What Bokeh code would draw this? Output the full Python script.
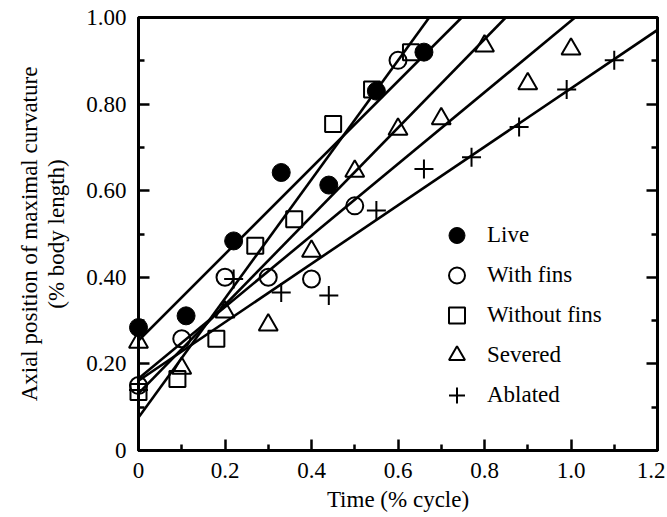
import numpy as np
from bokeh.plotting import figure
from bokeh.models import Range1d, LinearAxis, FixedTicker, Legend, LegendItem
from bokeh.embed import file_html
from bokeh.resources import INLINE

# ---- data ----
live_x = [0.0, 0.11, 0.22, 0.33, 0.44, 0.55, 0.66]
live_y = [0.284, 0.311, 0.484, 0.642, 0.613, 0.830, 0.920]

withfins_x = [0.0, 0.1, 0.2, 0.3, 0.4, 0.5, 0.6]
withfins_y = [0.150, 0.258, 0.400, 0.400, 0.396, 0.565, 0.901]

withoutfins_x = [0.0, 0.09, 0.18, 0.27, 0.36, 0.45, 0.54, 0.63]
withoutfins_y = [0.135, 0.165, 0.258, 0.473, 0.534, 0.754, 0.834, 0.920]

severed_x = [0.0, 0.1, 0.2, 0.3, 0.4, 0.5, 0.6, 0.7, 0.8, 0.9, 1.0]
severed_y = [0.250, 0.190, 0.320, 0.290, 0.460, 0.645, 0.742, 0.766, 0.934, 0.847, 0.927]

ablated_x = [0.0, 0.22, 0.33, 0.44, 0.55, 0.66, 0.77, 0.88, 0.99, 1.10]
ablated_y = [0.140, 0.396, 0.365, 0.358, 0.554, 0.650, 0.677, 0.747, 0.834, 0.901]

x_ticks = [0, 0.2, 0.4, 0.6, 0.8, 1, 1.2]
x_tick_labels = ["0", "0.2", "0.4", "0.6", "0.8", "1.0", "1.2"]
x_minor = [0.1, 0.3, 0.5, 0.7, 0.9, 1.1]
y_ticks = [0, 0.2, 0.4, 0.6, 0.8, 1]
y_tick_labels = ["0", "0.20", "0.40", "0.60", "0.80", "1.00"]
y_minor = [0.1, 0.3, 0.5, 0.7, 0.9]

X_MAX, Y_MAX = 1.2, 1.0
FONT = "Liberation Serif"
FS = "23px"

p = figure(output_backend="svg", toolbar_location=None,
           frame_width=519, frame_height=433,
           x_range=Range1d(0, X_MAX), y_range=Range1d(0, Y_MAX),
           min_border_left=138, min_border_right=8, min_border_top=17, min_border_bottom=60)
p.xgrid.visible = False
p.ygrid.visible = False
p.outline_line_color = "black"
p.outline_line_width = 3
p.background_fill_color = "white"
p.border_fill_color = "white"

right = LinearAxis()
p.add_layout(right, "right")

def style_axis(ax, ticks, minor, labels):
    ax.ticker = FixedTicker(ticks=ticks, minor_ticks=minor)
    ax.major_label_overrides = {t: l for t, l in zip(ticks, labels)}
    ax.axis_line_width = 3
    ax.axis_line_color = "black"
    ax.major_tick_line_width = 2.5
    ax.minor_tick_line_width = 2.5
    ax.major_tick_in = 11
    ax.major_tick_out = 0
    ax.minor_tick_in = 6
    ax.minor_tick_out = 0
    ax.major_label_text_font = FONT
    ax.major_label_text_font_size = FS
    ax.major_label_text_color = "black"
    ax.axis_label_text_font = FONT
    ax.axis_label_text_font_size = FS
    ax.axis_label_text_font_style = "normal"
    ax.axis_label_text_color = "black"

style_axis(p.xaxis[0], x_ticks, x_minor, x_tick_labels)
style_axis(p.yaxis[0], y_ticks, y_minor, y_tick_labels)
style_axis(right, y_ticks, y_minor, ["" for _ in y_ticks])
right.major_label_standoff = 0

p.xaxis[0].axis_label = "Time (% cycle)"
p.xaxis[0].major_label_standoff = 12
p.xaxis[0].axis_label_standoff = 6
p.yaxis[0].axis_label = "Axial position of maximal curvature\n(% body length)"
p.yaxis[0].major_label_standoff = 12
p.yaxis[0].axis_label_standoff = 14
p.yaxis[0].axis_label_text_line_height = 1.1

series = [
    ("Live", live_x, live_y, dict(marker="circle", size=18, fill_color="black", line_color="black", line_width=1)),
    ("With fins", withfins_x, withfins_y, dict(marker="circle", size=17, fill_color=None, line_color="black", line_width=2)),
    ("Without fins", withoutfins_x, withoutfins_y, dict(marker="square", size=16, fill_color=None, line_color="black", line_width=2)),
    ("Severed", severed_x, severed_y, dict(marker="triangle", size=19, fill_color=None, line_color="black", line_width=2)),
    ("Ablated", ablated_x, ablated_y, dict(marker="cross", size=19, line_color="black", line_width=2)),
]

items = []
for name, xs, ys, style in series:
    m, b = np.polyfit(np.array(xs), np.array(ys), 1)
    x_end = min(X_MAX, (Y_MAX - b) / m)
    p.line([0, x_end], [b, m * x_end + b], line_color="black", line_width=2.6)
    r = p.scatter(xs, ys, level="overlay", **style)
    items.append(LegendItem(label=name, renderers=[r]))

legend = Legend(items=items, location=(296, 35), glyph_width=45, glyph_height=40,
                spacing=0, padding=0, margin=0, label_standoff=8,
                border_line_color=None, background_fill_alpha=0,
                label_text_font=FONT, label_text_font_size=FS, label_text_color="black")
p.add_layout(legend)

open("out.html", "w").write(file_html(p, INLINE))
